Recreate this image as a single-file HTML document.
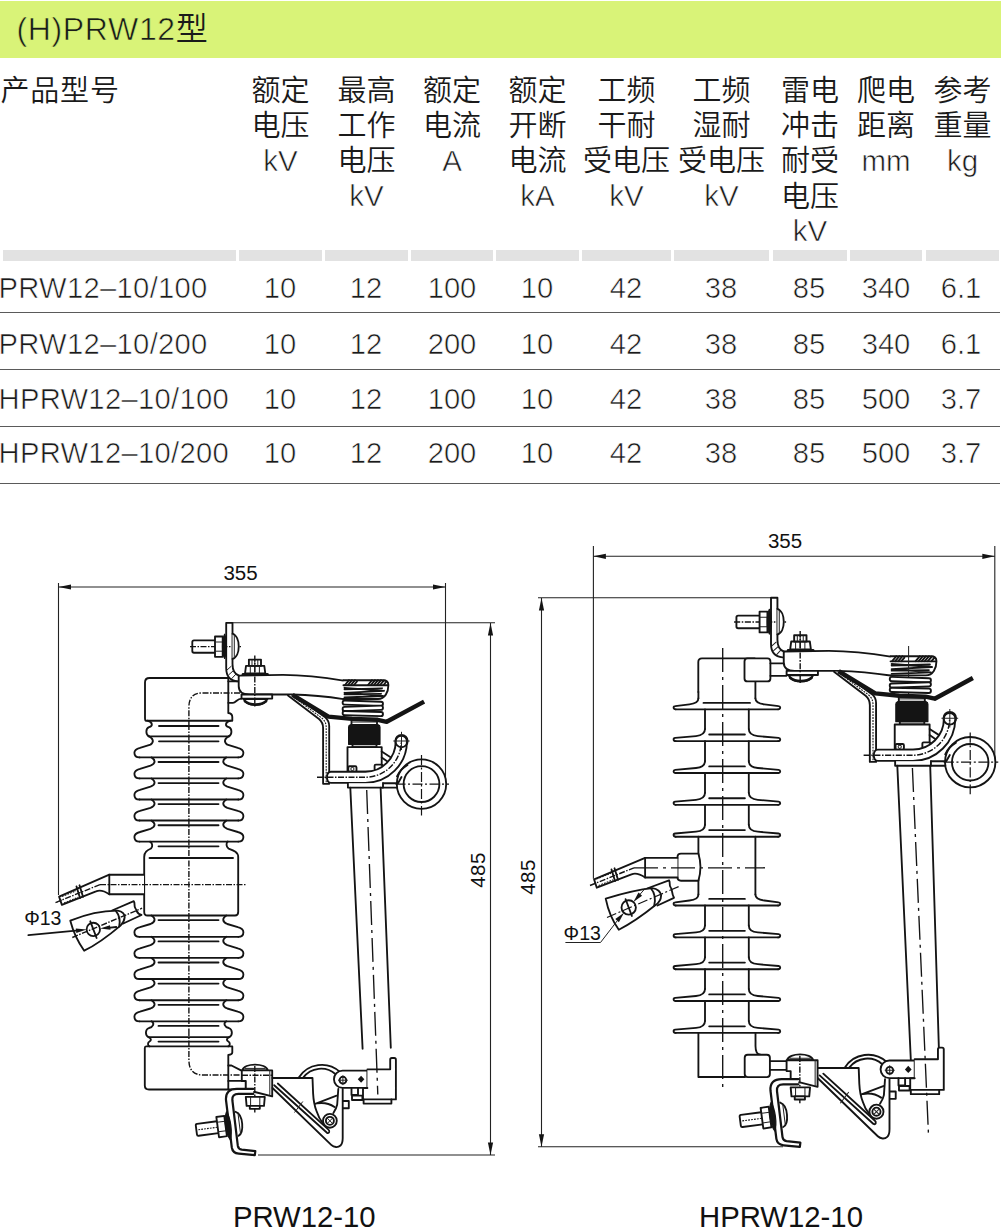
<!DOCTYPE html>
<html lang="zh-CN">
<head>
<meta charset="utf-8">
<title>(H)PRW12型</title>
<style>
html,body{margin:0;padding:0;background:#fff;}
body{width:1003px;height:1227px;position:relative;overflow:hidden;
 font-family:"Liberation Sans","Noto Sans CJK SC",sans-serif;color:#1a1a1a;font-weight:350;}
.bar{position:absolute;left:0;top:1px;width:1001px;height:57px;background:#d9f378;}
.title{position:absolute;left:16.5px;top:9px;font-size:32px;line-height:40px;white-space:nowrap;letter-spacing:0.65px;}
.hd{position:absolute;top:74px;font-size:29px;line-height:35.2px;text-align:center;white-space:nowrap;}
.hd.first{left:0.5px;text-align:left;letter-spacing:0.8px;}
.l{-webkit-text-stroke:0.6px #fff;font-size:29.5px;position:relative;top:-1.5px;}
.lg{-webkit-text-stroke:0.6px #d9f378;}
.row span{-webkit-text-stroke:0.6px #fff;}
.seg{position:absolute;top:250px;height:11px;background:#e2e2e2;}
.row{position:absolute;left:0;width:1000px;height:57px;border-bottom:1.3px solid #5a5a5a;box-sizing:border-box;}
.row span{position:absolute;top:0;font-size:29.2px;line-height:65px;text-align:center;white-space:nowrap;transform:translateX(-50%);}
.r2 span{line-height:62px;}.r3 span{line-height:58px;}.r4 span{line-height:53.4px;}
.row span.m{left:-1.5px;transform:none;text-align:left;letter-spacing:0.3px;}
svg{position:absolute;left:0;top:0;}
svg text{font-family:"Liberation Sans","Noto Sans CJK SC",sans-serif;fill:#111;font-weight:400;}
.o{fill:none;stroke:#141414;stroke-width:1.85;stroke-linecap:round;stroke-linejoin:round;}
.w{fill:#fff;stroke:#141414;stroke-width:1.85;stroke-linecap:round;stroke-linejoin:round;}
.k{fill:none;stroke:#141414;stroke-width:2.6;stroke-linecap:round;stroke-linejoin:round;}
.t{fill:none;stroke:#222;stroke-width:1;}
.d{fill:none;stroke:#222;stroke-width:1.1;}
.c{fill:none;stroke:#141414;stroke-width:1.2;stroke-dasharray:10 2.5 2 2.5;}
.h{fill:none;stroke:#141414;stroke-width:1.4;stroke-dasharray:6 1.5 1.5 1.5;}
.hs{fill:none;stroke:#1a1a1a;stroke-width:1.1;stroke-dasharray:1.8 1.1;}
.f{fill:#141414;stroke:none;}
.fbk{fill:none;stroke:#141414;stroke-width:4.4;stroke-linejoin:round;stroke-linecap:butt;}
.wk{fill:#fff;stroke:#141414;stroke-width:2.2;stroke-linecap:round;stroke-linejoin:round;}
.cl{fill:none;stroke:#141414;stroke-width:1.35;stroke-dasharray:24 5 3 5;}
.fb{fill:#141414;stroke:#141414;stroke-width:1.2;stroke-linejoin:round;}
</style>
</head>
<body>
<div class="bar"></div>
<div class="title"><span class="lg">(H)PRW12</span>型</div>

<div class="hd first">产品型号</div>
<div class="hd" style="left:239px;width:83px">额定<br>电压<br><span class="l">kV</span></div>
<div class="hd" style="left:325px;width:83px">最高<br>工作<br>电压<br><span class="l">kV</span></div>
<div class="hd" style="left:411px;width:82px">额定<br>电流<br><span class="l">A</span></div>
<div class="hd" style="left:496px;width:83px">额定<br>开断<br>电流<br><span class="l">kA</span></div>
<div class="hd" style="left:582px;width:89px">工频<br>干耐<br>受电压<br><span class="l">kV</span></div>
<div class="hd" style="left:674px;width:95px">工频<br>湿耐<br>受电压<br><span class="l">kV</span></div>
<div class="hd" style="left:773px;width:74px">雷电<br>冲击<br>耐受<br>电压<br><span class="l">kV</span></div>
<div class="hd" style="left:850px;width:72px">爬电<br>距离<br><span class="l">mm</span></div>
<div class="hd" style="left:926px;width:73px">参考<br>重量<br><span class="l">kg</span></div>

<div class="seg" style="left:3px;width:233px"></div>
<div class="seg" style="left:239px;width:83px"></div>
<div class="seg" style="left:325px;width:83px"></div>
<div class="seg" style="left:411px;width:82px"></div>
<div class="seg" style="left:496px;width:83px"></div>
<div class="seg" style="left:582px;width:89px"></div>
<div class="seg" style="left:674px;width:95px"></div>
<div class="seg" style="left:773px;width:74px"></div>
<div class="seg" style="left:850px;width:72px"></div>
<div class="seg" style="left:926px;width:73px"></div>

<div class="row" style="top:255.5px"><span class="m">PRW12–10/100</span><span style="left:280px">10</span><span style="left:366px">12</span><span style="left:452px">100</span><span style="left:537px">10</span><span style="left:626px">42</span><span style="left:721px">38</span><span style="left:809px">85</span><span style="left:886px">340</span><span style="left:961px">6.1</span></div>
<div class="row r2" style="top:312.5px"><span class="m">PRW12–10/200</span><span style="left:280px">10</span><span style="left:366px">12</span><span style="left:452px">200</span><span style="left:537px">10</span><span style="left:626px">42</span><span style="left:721px">38</span><span style="left:809px">85</span><span style="left:886px">340</span><span style="left:961px">6.1</span></div>
<div class="row r3" style="top:369.5px"><span class="m">HPRW12–10/100</span><span style="left:280px">10</span><span style="left:366px">12</span><span style="left:452px">100</span><span style="left:537px">10</span><span style="left:626px">42</span><span style="left:721px">38</span><span style="left:809px">85</span><span style="left:886px">500</span><span style="left:961px">3.7</span></div>
<div class="row r4" style="top:426.5px"><span class="m">HPRW12–10/200</span><span style="left:280px">10</span><span style="left:366px">12</span><span style="left:452px">200</span><span style="left:537px">10</span><span style="left:626px">42</span><span style="left:721px">38</span><span style="left:809px">85</span><span style="left:886px">500</span><span style="left:961px">3.7</span></div>

<svg width="1003" height="1227" viewBox="0 0 1003 1227">
<path class="d" d="M58.5,583 L58.5,895"/>
<path class="d" d="M445.5,583 L445.5,785"/>
<path class="d" d="M58.5,587 L445.5,587"/>
<path class="f" d="M58.5,587 L71,584.4 L71,589.6 Z"/>
<path class="f" d="M445.5,587 L433,589.6 L433,584.4 Z"/>
<text x="240.5" y="579.5" font-size="20.5" text-anchor="middle">355</text>
<path class="d" d="M232.5,622.8 L495,622.8"/>
<path class="d" d="M258,1155 L495,1155"/>
<path class="d" d="M490.5,623 L490.5,1155"/>
<path class="f" d="M490.5,623 L493.1,635.5 L487.9,635.5 Z"/>
<path class="f" d="M490.5,1155 L487.9,1142.5 L493.1,1142.5 Z"/>
<text transform="translate(484.5,870) rotate(-90)" font-size="20.5" letter-spacing="0.4" text-anchor="middle">485</text>
<text x="304.3" y="1227" font-size="29.3" text-anchor="middle">PRW12-10</text>
<path class="o" d="M149.5,678 H228.3 V713 Q232.3,713.5 232.3,717 V720.7 H146 Q145,720.7 145,718 V682.5 Q145,678 149.5,678 Z"/>
<path class="o" d="M147.5,720.7 C153,722.2 153,726.2 149,727.2 C145.5,728.7 145.5,734.8 149,736.3"/>
<path class="o" d="M230.3,720.7 C224.8,722.2 224.8,726.2 228.8,727.2 C232.3,728.7 232.3,734.8 228.8,736.3"/>
<path class="o" d="M148.5,736.3 L229.3,736.3"/>
<path class="o" d="M159,726 L218.5,726"/>
<path class="o" d="M159,741.3 L218.5,741.3"/>
<path class="o" d="M149,736.3 C153,738.5 154.5,742 150.5,744.6 L140,747.8 C136,748.8 134.4,750.4 134.4,752.8 C134.4,755.9 136.5,757.4 139.5,757.4"/>
<path class="o" d="M228.8,736.3 C224.8,738.5 223.3,742 227.3,744.6 L237.8,747.8 C241.8,748.8 243.4,750.4 243.4,752.8 C243.4,755.9 241.3,757.4 238.3,757.4"/>
<path class="o" d="M139.5,757.4 L238.3,757.4"/>
<path class="o" d="M151.5,757.4 C155.5,759.9 156,763.4 150.5,765.6 L140,768.8 C136,769.8 134.4,771.4 134.4,773.8 C134.4,776.9 136.5,778.4 139.5,778.4"/>
<path class="o" d="M226.3,757.4 C222.3,759.9 221.8,763.4 227.3,765.6 L237.8,768.8 C241.8,769.8 243.4,771.4 243.4,773.8 C243.4,776.9 241.3,778.4 238.3,778.4"/>
<path class="o" d="M139.5,778.4 L238.3,778.4"/>
<path class="o" d="M158.5,762 L218.5,762"/>
<path class="o" d="M151.5,778.5 C155.5,781 156,784.5 150.5,786.7 L140,789.9 C136,790.9 134.4,792.5 134.4,794.9 C134.4,798 136.5,799.5 139.5,799.5"/>
<path class="o" d="M226.3,778.5 C222.3,781 221.8,784.5 227.3,786.7 L237.8,789.9 C241.8,790.9 243.4,792.5 243.4,794.9 C243.4,798 241.3,799.5 238.3,799.5"/>
<path class="o" d="M139.5,799.5 L238.3,799.5"/>
<path class="o" d="M158.5,783.1 L218.5,783.1"/>
<path class="o" d="M151.5,799.5 C155.5,802 156,805.5 150.5,807.8 L140,810.9 C136,811.9 134.4,813.5 134.4,815.9 C134.4,819 136.5,820.5 139.5,820.5"/>
<path class="o" d="M226.3,799.5 C222.3,802 221.8,805.5 227.3,807.8 L237.8,810.9 C241.8,811.9 243.4,813.5 243.4,815.9 C243.4,819 241.3,820.5 238.3,820.5"/>
<path class="o" d="M139.5,820.5 L238.3,820.5"/>
<path class="o" d="M158.5,804.1 L218.5,804.1"/>
<path class="o" d="M151.5,820.6 C155.5,823.1 156,826.6 150.5,828.8 L140,832 C136,833 134.4,834.6 134.4,837 C134.4,840.1 136.5,841.6 139.5,841.6"/>
<path class="o" d="M226.3,820.6 C222.3,823.1 221.8,826.6 227.3,828.8 L237.8,832 C241.8,833 243.4,834.6 243.4,837 C243.4,840.1 241.3,841.6 238.3,841.6"/>
<path class="o" d="M139.5,841.6 L238.3,841.6"/>
<path class="o" d="M158.5,825.2 L218.5,825.2"/>
<path class="o" d="M158.5,846.3 L218.5,846.3"/>
<path class="o" d="M150,841.6 C152.5,843 153,846.5 151,848.5 C147,850.5 144.2,852 144.2,857 V912 Q144.2,915.5 147.5,915.5 H235 Q238.2,915.5 238.2,912 V857 C238.2,852 234,850.5 228.5,848.5 C226,846.5 226,843 227.8,841.6"/>
<path class="o" d="M149.5,858 L233,858"/>
<path class="o" d="M151.5,915.5 C155.5,918 156,921.8 150.5,924 L140,927.2 C136,928.2 134.4,929.8 134.4,932.2 C134.4,935.3 136.5,936.8 139.5,936.8"/>
<path class="o" d="M226.3,915.5 C222.3,918 221.8,921.8 227.3,924 L237.8,927.2 C241.8,928.2 243.4,929.8 243.4,932.2 C243.4,935.3 241.3,936.8 238.3,936.8"/>
<path class="o" d="M139.5,936.8 L238.3,936.8"/>
<path class="o" d="M158.5,920.1 L218.5,920.1"/>
<path class="o" d="M151.5,936.8 C155.5,939.3 156,942.9 150.5,945.1 L140,948.3 C136,949.3 134.4,950.9 134.4,953.3 C134.4,956.4 136.5,957.9 139.5,957.9"/>
<path class="o" d="M226.3,936.8 C222.3,939.3 221.8,942.9 227.3,945.1 L237.8,948.3 C241.8,949.3 243.4,950.9 243.4,953.3 C243.4,956.4 241.3,957.9 238.3,957.9"/>
<path class="o" d="M139.5,957.9 L238.3,957.9"/>
<path class="o" d="M158.5,941.4 L218.5,941.4"/>
<path class="o" d="M151.5,957.9 C155.5,960.4 156,964 150.5,966.2 L140,969.4 C136,970.4 134.4,972 134.4,974.4 C134.4,977.5 136.5,979 139.5,979"/>
<path class="o" d="M226.3,957.9 C222.3,960.4 221.8,964 227.3,966.2 L237.8,969.4 C241.8,970.4 243.4,972 243.4,974.4 C243.4,977.5 241.3,979 238.3,979"/>
<path class="o" d="M139.5,979 L238.3,979"/>
<path class="o" d="M158.5,962.5 L218.5,962.5"/>
<path class="o" d="M151.5,979 C155.5,981.5 156,985.2 150.5,987.4 L140,990.6 C136,991.6 134.4,993.2 134.4,995.6 C134.4,998.7 136.5,1000.2 139.5,1000.2"/>
<path class="o" d="M226.3,979 C222.3,981.5 221.8,985.2 227.3,987.4 L237.8,990.6 C241.8,991.6 243.4,993.2 243.4,995.6 C243.4,998.7 241.3,1000.2 238.3,1000.2"/>
<path class="o" d="M139.5,1000.2 L238.3,1000.2"/>
<path class="o" d="M158.5,983.6 L218.5,983.6"/>
<path class="o" d="M151.5,1000.2 C155.5,1002.7 156,1006.3 150.5,1008.5 L140,1011.7 C136,1012.7 134.4,1014.3 134.4,1016.7 C134.4,1019.8 136.5,1021.3 139.5,1021.3"/>
<path class="o" d="M226.3,1000.2 C222.3,1002.7 221.8,1006.3 227.3,1008.5 L237.8,1011.7 C241.8,1012.7 243.4,1014.3 243.4,1016.7 C243.4,1019.8 241.3,1021.3 238.3,1021.3"/>
<path class="o" d="M139.5,1021.3 L238.3,1021.3"/>
<path class="o" d="M158.5,1004.8 L218.5,1004.8"/>
<path class="o" d="M158.5,1025.9 L218.5,1025.9"/>
<path class="o" d="M151.5,1021.3 C155,1023.5 153,1027 149,1028 C145,1029.5 145,1035.5 148.5,1037.1 C151.5,1038.5 151.5,1040.5 149.5,1041.5 C147.5,1042.5 147.5,1045.5 149.5,1046.4"/>
<path class="o" d="M226.3,1021.3 C222.8,1023.5 224.8,1027 228.8,1028 C232.8,1029.5 232.8,1035.5 229.3,1037.1 C226.3,1038.5 226.3,1040.5 228.3,1041.5 C230.3,1042.5 230.3,1045.5 228.3,1046.4"/>
<path class="o" d="M148.5,1037.1 L229.3,1037.1"/>
<path class="o" d="M158.5,1041.6 L218.5,1041.6"/>
<path class="o" d="M146,1046.4 H232.3 V1052.5 Q232.3,1054.5 228.3,1055 V1089.5 H149 Q144.8,1089.5 144.8,1085.5 V1048 Q144.8,1046.4 146,1046.4 Z"/>
<path class="h" d="M188.9,724 V1030"/>
<path class="h" d="M240,693 H202 Q188.9,693 188.9,707 V724"/>
<path class="h" d="M188.9,1030 V1060 Q188.9,1075 203,1075 H272"/>
<path class="o" d="M228.3,681.3 H237.5 M228.3,702.8 H233 C236,702.8 237,698.6 241.5,698.6"/>
<path class="o" d="M226.2,622.8 H232.5 V664 Q232.5,673.5 239,675.6 M226.2,622.8 V668 Q226.2,680.5 237.5,681.3"/>
<path class="t" d="M227,670 L231.5,666 M228.5,675 L233.5,670.5 M231.5,678.8 L236,674"/>
<path class="w" d="M215,640.4 H194 Q192.3,640.4 192.3,642 V651 Q192.3,652.7 194,652.7 H215"/>
<path class="h" d="M190,646.6 L241,646.6"/>
<rect class="w" x="215" y="636.5" width="7.7" height="20.3"/>
<path class="t" d="M215,642 H222.7 M215,651.2 H222.7"/>
<path class="fb" d="M224.6,634.2 C221.8,640 221.8,653 224.6,658.4 C227,653 227,640 224.6,634.2 Z"/>
<path class="w" d="M232.5,633.7 C240.8,636.5 240.8,656.5 232.5,658.9"/>
<path class="t" d="M234.3,635 L234.3,657.8"/>
<path class="w" d="M245,673.5 L246,665.8 H264.3 L265.3,673.5 Z"/>
<rect class="w" x="248.9" y="659.6" width="12.1" height="6.2"/>
<path class="t" d="M250.3,665.8 V673.5 M254.8,659.6 V673.5 M259.4,665.8 V673.5 M252,659.6 V665.8 M257.8,659.6 V665.8"/>
<path class="k" d="M243,674.3 L267.5,674.3"/>
<path class="o" d="M238.7,675.6 L283,674.9 C305,675 325,677.5 343.4,680.6 M238.7,675.6 V686 Q238.7,694.5 249.2,694.5 H292 C312,695 330,697 343.4,699.1"/>
<rect class="w" x="241.5" y="694.5" width="30.7" height="4.1"/>
<path class="w" d="M243.5,699 C247,707 264,707 267.5,699 Z"/>
<path class="k" d="M245,701.2 C250,705.5 261,705.5 266,701.2"/>
<path class="h" d="M254.8,655.5 L254.8,708"/>
<path class="w" d="M343.4,680.2 H383 Q388.4,680.2 388.4,685 C388.4,692 385,699 378,699 H343.4"/>
<path class="o" d="M343.4,685.2 H388"/>
<path class="o" d="M345,685 L349,680.2 M348,685 L352,680.2 M351,685 L355,680.2 M354,685 L357,681.5 M368,685 L372,680.2 M371,685 L375,680.2 M374,685 L378,680.2 M377,685 L381,680.2 M380,685 L384,680.4 M383.5,685 L386.5,681.5"/>
<path class="o" d="M344.5,687.8 L384,690.8 M344.5,692.8 L384,690.8 M344.5,692.8 L383,696 M344.5,697.5 L383,696 M344.5,689.3 L382,688.3 M344.5,694.3 L381,693.8"/>
<rect class="w" x="342.6" y="701.1" width="40.4" height="4.2" rx="2.1" transform="rotate(2 362.8 703.2)"/>
<rect class="w" x="342.6" y="706.3" width="40.4" height="4.2" rx="2.1" transform="rotate(-2 362.8 708.4)"/>
<rect class="w" x="342.6" y="711.5" width="40.4" height="4.2" rx="2.1" transform="rotate(1.5 362.8 713.6)"/>
<rect class="w" x="351.5" y="719.4" width="25.5" height="5.4"/>
<path class="t" d="M351.5,722 L377,722"/>
<path class="w" d="M288,695.4 L319,719 Q323.1,722.5 323.1,728 V783.8 H329.2 V726 Q329.2,721 325.5,717.6 L295,695.7"/>
<path class="hs" d="M291.5,695.4 L322.2,718.4 Q326.2,722 326.2,727.5 V783"/>
<path class="fbk" d="M292.5,694.9 L328.4,716.6 L352,718.9 L377.7,719.8 L386.7,721.8 L424.1,701.6"/>
<path class="fb" d="M350.2,724.8 H378.4 Q380,725 380,727.3 V744.3 H348.6 V727.3 Q348.6,725 350.2,724.8 Z"/>
<rect class="w" x="352.5" y="744.3" width="24" height="2.8"/>
<circle class="w" cx="421.5" cy="784.1" r="24.7"/>
<circle class="w" cx="421.5" cy="784.1" r="17.9"/>
<path class="o" d="M382.2,787.6 H397"/>
<rect class="w" x="347.5" y="747.1" width="34.2" height="24.6"/>
<rect class="w" x="348.3" y="766.2" width="8.2" height="5.5" rx="1.2"/>
<circle class="t" cx="352.4" cy="769" r="1.6"/>
<rect class="w" x="374.6" y="764.6" width="8" height="5.6" rx="1.2"/>
<path class="o" d="M381.7,751.5 L394,759.5 M381.7,757.5 L391,764 M381.7,765 L388,768.5"/>
<path class="w" d="M365.4,771.7 H331 Q327,771.7 327,777.2 Q327,782.8 331,782.8 H365.4 A41.5,41.5 0 0 0 406.9,741.4 A5.6,5.6 0 0 0 395.7,741.4 A30.3,30.3 0 0 1 365.4,771.7 Z"/>
<circle class="o" cx="401.5" cy="741" r="6.2"/>
<path class="h" d="M317,777.2 H365.4 A35.9,35.9 0 0 0 401.3,741.4"/>
<path class="t" d="M393.3,741 H409.7 M401.5,731.8 V750"/>
<path class="o" d="M397,776.5 C400,770 403,768 407.5,765 M383,783.2 L398,783.2 L401.5,777"/>
<path class="w" d="M347.9,783.2 V787.6 H383 V783.2"/>
<path class="c" d="M395.5,784.1 H449 M421.5,755 V815.5"/>
<path class="o" d="M350.3,787.6 L362.6,1048.7 M380.6,787.6 L390.8,1047.7"/>
<path class="o" d="M228.3,1065.5 H231.5 L241,1070.4 M228.3,1080.9 H241.8 M228.3,1089.4 H245.8 M245.8,1081 V1089.4"/>
<path class="w" d="M242.3,1070.4 C243.5,1062.6 266.6,1062.6 267.8,1070.4 Z"/>
<path class="t" d="M244.5,1068.4 H265.6"/>
<path class="w" d="M241.8,1070.4 H272.2 V1096.4 L254.8,1092 H245.8 V1081 H241.8 Z"/>
<path class="t" d="M269.8,1070.4 L269.8,1095.8"/>
<path class="h" d="M254.8,1066 L254.8,1112.5"/>
<path class="h" d="M242,1075.3 L272,1075.3"/>
<path class="wk" d="M253.3,1088.9 H237 Q225.2,1088.9 226,1100 L231.8,1147.5 Q232.6,1153 238.8,1153.7 L254.8,1155.2 L255.3,1151.2 L241.8,1149.7 Q238.4,1149.2 237.8,1145.7 L232.4,1100.5 Q231.8,1093.9 238.5,1093.9 H253.3"/>
<path class="w" d="M245.8,1096.9 H264.8 L264,1105.8 H246.6 Z"/>
<path class="t" d="M250.6,1096.9 V1105.8 M259.8,1096.9 V1105.8"/>
<rect class="w" x="249.8" y="1105.8" width="10" height="3"/>
<g transform="rotate(-7.5 230 1125)">
<path class="w" d="M217.5,1119.6 H197.5 Q196,1119.6 196,1121.2 V1130 Q196,1131.6 197.5,1131.6 H217.5"/>
<path class="hs" d="M198,1125.6 H217.5"/>
<rect class="w" x="217.5" y="1115.3" width="8" height="20.4"/>
<path class="t" d="M217.5,1120.7 H225.5 M217.5,1130.2 H225.5"/>
<path class="fb" d="M228.3,1111.5 C224.6,1118 224.6,1133 228.3,1139.5 C231.6,1133 231.6,1118 228.3,1111.5 Z"/>
</g>
<path class="w" d="M235.6,1111.8 C243.6,1114.5 244.2,1133 238.5,1135.8"/>
<path class="t" d="M238,1113.4 L240.6,1134.2"/>
<path class="o" d="M298.8,1077.6 A27.1,27.1 0 0 1 340,1072"/>
<path class="o" d="M303.2,1077.6 A22.2,22.2 0 0 1 335.6,1074.2"/>
<path class="o" d="M272.5,1078 H312.5 L313.1,1093.4 C313.5,1101 314.5,1106 316.5,1111 C318,1116 320.5,1120.5 323.5,1124 M272.5,1088 L331.2,1144.9 C334,1147.5 338,1147.8 340.5,1145.5 C342.6,1143.5 342.7,1141 342.7,1138 V1089 M338.3,1089 L337.2,1104.5 C336.5,1108 335,1110.5 333.4,1113"/>
<path class="o" d="M274.2,1085.2 L327,1132.8 Q328.6,1133.6 329.2,1132 Q329.6,1130.6 328.2,1129.4 L277.8,1083.5"/>
<path class="t" d="M294.5,1112.5 L302.8,1101.5"/>
<path class="o" d="M315.2,1103.8 L336.6,1095.6 M316.8,1103.4 C322,1102.5 329,1103.2 334.5,1107"/>
<circle class="w" cx="329.9" cy="1120.8" r="6.9"/>
<circle class="o" cx="329.9" cy="1120.8" r="4"/>
<path class="t" d="M327.1,1118 L332.7,1123.6 M332.7,1118 L327.1,1123.6"/>
<path class="w" d="M342.6,1070.6 H367.4 V1087.9 H342.6 A8.65,8.65 0 0 1 342.6,1070.6 Z"/>
<circle class="o" cx="342.9" cy="1080.2" r="3.4"/>
<path class="t" d="M338,1080.2 H347.8 M342.9,1075.3 V1085.1"/>
<path class="f" d="M361.1,1075.8 L364.4,1079.3 L361.1,1082.8 L357.8,1079.3 Z"/>
<path class="o" d="M351.5,1088 V1095 H358 V1088 M352,1095.6 H362.4 V1100 H352 Z M343.3,1101 H348.8 V1108.2 H343.3"/>
<path class="w" d="M367.4,1069.3 H390.2 V1059.8 Q390.2,1058 391.8,1058 H394.3 Q395.9,1058 395.9,1059.8 V1099.4 H363 V1088 H367.4"/>
<path class="o" d="M363.6,1099.4 V1103.6 H391.4 V1099.4"/>
<path class="cl" d="M366.7,790 L377.8,1094.5"/>
<path class="w" d="M144,874.7 H109.3 L59.1,896.6 L61.9,904.9 L96,891.3 C100,889.6 104,890.6 109.3,894.2 H144"/>
<path class="o" d="M109.3,874.7 L109.3,894.2"/>
<path class="h" d="M55.5,902.6 L100,884.6"/>
<path class="hs" d="M62,896.5 L76,890.8 M64,903 L78,897.3"/>
<path class="o" d="M76.5,886.5 L80,898 M79.5,885.3 L83,896.8"/>
<path class="t" d="M57,902 L62,900"/>
<path class="w" d="M112,910.5 L133.8,901.2 C135.5,904 133.5,906 135.5,908.5 C137.5,911 136,913.5 141.5,915 L123.3,923.5"/>
<path class="w" d="M70.3,920.7 C84,915 103,910.5 117.7,910.6 C122.5,911.2 125,914.5 124.7,917.2 C124.3,921 122.5,923.8 120.5,925.6 C110,934.5 97,944.5 84.2,950.7 C78,942 73,931 70.3,920.7 Z"/>
<path class="o" d="M116,911.2 C119.5,915.5 120.5,920.5 119.2,926.6"/>
<circle class="w" cx="93.3" cy="929.4" r="6.7"/>
<path class="h" d="M72.3,937.5 L142.1,908.2"/>
<path class="o" d="M90.3,921.3 L96.6,938"/>
<path class="o" d="M28.4,935.1 L76,930.7"/>
<path class="f" d="M86.6,929.6 L76.3,933 L75.8,928.4 Z"/>
<path class="o" d="M116.3,927 L108,927.8"/>
<path class="f" d="M100,928.5 L110,925.2 L110.5,929.8 Z"/>
<text x="24.2" y="925.2" font-size="19.5" text-anchor="start">Φ13</text>
<path class="h" d="M100,884.6 L246,884.6"/>
<path class="d" d="M593.4,546 L593.4,878.7"/>
<path class="d" d="M994.8,546 L994.8,764"/>
<path class="d" d="M593.4,556.3 L994.8,556.3"/>
<path class="f" d="M593.4,556.3 L605.9,553.7 L605.9,558.9 Z"/>
<path class="f" d="M994.8,556.3 L982.3,558.9 L982.3,553.7 Z"/>
<text x="785" y="547.8" font-size="20.5" text-anchor="middle">355</text>
<path class="d" d="M538,597.8 L771,597.8"/>
<path class="d" d="M538,1146.8 L783,1146.8"/>
<path class="d" d="M541.5,598 L541.5,1146.8"/>
<path class="f" d="M541.5,598 L544.1,610.5 L538.9,610.5 Z"/>
<path class="f" d="M541.5,1146.8 L538.9,1134.3 L544.1,1134.3 Z"/>
<text transform="translate(534.5,877) rotate(-90)" font-size="20.5" letter-spacing="0.4" text-anchor="middle">485</text>
<text x="781" y="1227" font-size="29.3" text-anchor="middle">HPRW12-10</text>
<path class="o" d="M698.3,692 V662 Q698.3,658.4 702,658.4 H754.8"/>
<path class="o" d="M698.4,692 V698.3"/>
<path class="o" d="M698.4,698.3 C698.4,701.3 695.4,703.7 689.4,704.3 L675.2,706.1 C673,706.3 673,709.3 675.7,709.3"/>
<path class="o" d="M705,709.3 V729.1"/>
<path class="o" d="M705,729.1 C705,733.1 702,735.5 696,736.1 L675.2,737.9 C673,738.1 673,741.1 675.7,741.1"/>
<path class="o" d="M705,741.1 V761"/>
<path class="o" d="M705,761 C705,765 702,767.4 696,768 L675.2,769.8 C673,770 673,773 675.7,773"/>
<path class="o" d="M705,773 V792.8"/>
<path class="o" d="M705,792.8 C705,796.8 702,799.2 696,799.8 L675.2,801.6 C673,801.8 673,804.8 675.7,804.8"/>
<path class="o" d="M705,804.8 V824.7"/>
<path class="o" d="M705,824.7 C705,828.7 702,831.1 696,831.7 L675.2,833.5 C673,833.7 673,836.7 675.7,836.7"/>
<path class="o" d="M698.4,836.7 V894.5"/>
<path class="o" d="M698.4,894.5 C698.4,897.5 695.4,899.9 689.4,900.5 L675.2,902.3 C673,902.5 673,905.5 675.7,905.5"/>
<path class="o" d="M705,905.5 V925.4"/>
<path class="o" d="M705,925.4 C705,929.4 702,931.8 696,932.4 L675.2,934.1 C673,934.4 673,937.4 675.7,937.4"/>
<path class="o" d="M705,937.4 V957.2"/>
<path class="o" d="M705,957.2 C705,961.2 702,963.6 696,964.2 L675.2,966 C673,966.2 673,969.2 675.7,969.2"/>
<path class="o" d="M705,969.2 V989"/>
<path class="o" d="M705,989 C705,993 702,995.4 696,996 L675.2,997.8 C673,998 673,1001 675.7,1001"/>
<path class="o" d="M705,1001.1 V1020.9"/>
<path class="o" d="M705,1020.9 C705,1024.9 702,1027.3 696,1027.9 L675.2,1029.7 C673,1029.9 673,1032.9 675.7,1032.9"/>
<path class="o" d="M755.4,681.4 V698.3"/>
<path class="o" d="M755.4,698.3 C755.4,701.3 758.4,703.7 764.4,704.3 L778.6,706.1 C780.8,706.3 780.8,709.3 778.1,709.3"/>
<path class="o" d="M748.8,709.3 V729.1"/>
<path class="o" d="M748.8,729.1 C748.8,733.1 751.8,735.5 757.8,736.1 L778.6,737.9 C780.8,738.1 780.8,741.1 778.1,741.1"/>
<path class="o" d="M748.8,741.1 V761"/>
<path class="o" d="M748.8,761 C748.8,765 751.8,767.4 757.8,768 L778.6,769.8 C780.8,770 780.8,773 778.1,773"/>
<path class="o" d="M748.8,773 V792.8"/>
<path class="o" d="M748.8,792.8 C748.8,796.8 751.8,799.2 757.8,799.8 L778.6,801.6 C780.8,801.8 780.8,804.8 778.1,804.8"/>
<path class="o" d="M748.8,804.8 V824.7"/>
<path class="o" d="M748.8,824.7 C748.8,828.7 751.8,831.1 757.8,831.7 L778.6,833.5 C780.8,833.7 780.8,836.7 778.1,836.7"/>
<path class="o" d="M755.4,836.7 V894.5"/>
<path class="o" d="M755.4,894.5 C755.4,897.5 758.4,899.9 764.4,900.5 L778.6,902.3 C780.8,902.5 780.8,905.5 778.1,905.5"/>
<path class="o" d="M748.8,905.5 V925.4"/>
<path class="o" d="M748.8,925.4 C748.8,929.4 751.8,931.8 757.8,932.4 L778.6,934.1 C780.8,934.4 780.8,937.4 778.1,937.4"/>
<path class="o" d="M748.8,937.4 V957.2"/>
<path class="o" d="M748.8,957.2 C748.8,961.2 751.8,963.6 757.8,964.2 L778.6,966 C780.8,966.2 780.8,969.2 778.1,969.2"/>
<path class="o" d="M748.8,969.2 V989"/>
<path class="o" d="M748.8,989 C748.8,993 751.8,995.4 757.8,996 L778.6,997.8 C780.8,998 780.8,1001 778.1,1001"/>
<path class="o" d="M748.8,1001.1 V1020.9"/>
<path class="o" d="M748.8,1020.9 C748.8,1024.9 751.8,1027.3 757.8,1027.9 L778.6,1029.7 C780.8,1029.9 780.8,1032.9 778.1,1032.9"/>
<path class="o" d="M675.7,709.3 L778.1,709.3"/>
<path class="o" d="M703.5,702.9 L750,702.9"/>
<path class="o" d="M675.7,741.1 L778.1,741.1"/>
<path class="o" d="M709.2,734.5 L744.9,734.5"/>
<path class="o" d="M675.7,773 L778.1,773"/>
<path class="o" d="M709.2,766.4 L744.9,766.4"/>
<path class="o" d="M675.7,804.8 L778.1,804.8"/>
<path class="o" d="M709.2,798.2 L744.9,798.2"/>
<path class="o" d="M675.7,836.7 L778.1,836.7"/>
<path class="o" d="M709.2,830.1 L744.9,830.1"/>
<path class="o" d="M675.7,905.5 L778.1,905.5"/>
<path class="o" d="M709.2,898.9 L744.9,898.9"/>
<path class="o" d="M675.7,937.4 L778.1,937.4"/>
<path class="o" d="M709.2,930.8 L744.9,930.8"/>
<path class="o" d="M675.7,969.2 L778.1,969.2"/>
<path class="o" d="M709.2,962.6 L744.9,962.6"/>
<path class="o" d="M675.7,1001 L778.1,1001"/>
<path class="o" d="M709.2,994.4 L744.9,994.4"/>
<path class="o" d="M675.7,1032.9 L778.1,1032.9"/>
<path class="o" d="M709.2,1026.3 L744.9,1026.3"/>
<path class="o" d="M698.4,1032.9 V1077 H745"/>
<path class="o" d="M755.5,1032.9 V1046 Q755.5,1054.7 760.5,1054.7"/>
<path class="cl" d="M722.7,648 V1088"/>
<rect class="w" x="744.5" y="658.4" width="25.9" height="23" rx="3"/>
<path class="o" d="M770.4,663.3 H783 M770.4,675.8 H786.5"/>
<rect class="w" x="744.7" y="1054.7" width="25.2" height="22.4" rx="3"/>
<path class="o" d="M769.9,1061.1 H791.4 M769.9,1069.9 H791.4"/>
<g transform="translate(540.28,-37.56) scale(1.02)">
<path class="o" d="M226.2,622.8 H232.5 V664 Q232.5,673.5 239,675.6 M226.2,622.8 V668 Q226.2,680.5 237.5,681.3"/>
<path class="t" d="M227,670 L231.5,666 M228.5,675 L233.5,670.5 M231.5,678.8 L236,674"/>
<path class="w" d="M215,640.4 H194 Q192.3,640.4 192.3,642 V651 Q192.3,652.7 194,652.7 H215"/>
<path class="h" d="M190,646.6 L241,646.6"/>
<rect class="w" x="215" y="636.5" width="7.7" height="20.3"/>
<path class="t" d="M215,642 H222.7 M215,651.2 H222.7"/>
<path class="fb" d="M224.6,634.2 C221.8,640 221.8,653 224.6,658.4 C227,653 227,640 224.6,634.2 Z"/>
<path class="w" d="M232.5,633.7 C240.8,636.5 240.8,656.5 232.5,658.9"/>
<path class="t" d="M234.3,635 L234.3,657.8"/>
<path class="w" d="M245,673.5 L246,665.8 H264.3 L265.3,673.5 Z"/>
<rect class="w" x="248.9" y="659.6" width="12.1" height="6.2"/>
<path class="t" d="M250.3,665.8 V673.5 M254.8,659.6 V673.5 M259.4,665.8 V673.5 M252,659.6 V665.8 M257.8,659.6 V665.8"/>
<path class="k" d="M243,674.3 L267.5,674.3"/>
<path class="o" d="M238.7,675.6 L283,674.9 C305,675 325,677.5 343.4,680.6 M238.7,675.6 V686 Q238.7,694.5 249.2,694.5 H292 C312,695 330,697 343.4,699.1"/>
<rect class="w" x="241.5" y="694.5" width="30.7" height="4.1"/>
<path class="w" d="M243.5,699 C247,707 264,707 267.5,699 Z"/>
<path class="k" d="M245,701.2 C250,705.5 261,705.5 266,701.2"/>
<path class="h" d="M254.8,655.5 L254.8,708"/>
<path class="w" d="M343.4,680.2 H383 Q388.4,680.2 388.4,685 C388.4,692 385,699 378,699 H343.4"/>
<path class="o" d="M343.4,685.2 H388"/>
<path class="o" d="M345,685 L349,680.2 M348,685 L352,680.2 M351,685 L355,680.2 M354,685 L357,681.5 M368,685 L372,680.2 M371,685 L375,680.2 M374,685 L378,680.2 M377,685 L381,680.2 M380,685 L384,680.4 M383.5,685 L386.5,681.5"/>
<path class="o" d="M344.5,687.8 L384,690.8 M344.5,692.8 L384,690.8 M344.5,692.8 L383,696 M344.5,697.5 L383,696 M344.5,689.3 L382,688.3 M344.5,694.3 L381,693.8"/>
<path class="t" d="M361.1,670.2 L361.1,723"/>
<rect class="w" x="342.6" y="701.1" width="40.4" height="4.2" rx="2.1" transform="rotate(2 362.8 703.2)"/>
<rect class="w" x="342.6" y="706.3" width="40.4" height="4.2" rx="2.1" transform="rotate(-2 362.8 708.4)"/>
<rect class="w" x="342.6" y="711.5" width="40.4" height="4.2" rx="2.1" transform="rotate(1.5 362.8 713.6)"/>
<rect class="w" x="351.5" y="719.4" width="25.5" height="5.4"/>
<path class="t" d="M351.5,722 L377,722"/>
<path class="w" d="M288,695.4 L319,719 Q323.1,722.5 323.1,728 V783.8 H329.2 V726 Q329.2,721 325.5,717.6 L295,695.7"/>
<path class="hs" d="M291.5,695.4 L322.2,718.4 Q326.2,722 326.2,727.5 V783"/>
<path class="fbk" d="M292.5,694.9 L328.4,716.6 L352,718.9 L377.7,719.8 L386.7,721.8 L424.1,701.6"/>
<path class="fb" d="M350.2,724.8 H378.4 Q380,725 380,727.3 V744.3 H348.6 V727.3 Q348.6,725 350.2,724.8 Z"/>
<rect class="w" x="352.5" y="744.3" width="24" height="2.8"/>
<circle class="w" cx="421.5" cy="784.1" r="24.7"/>
<circle class="w" cx="421.5" cy="784.1" r="17.9"/>
<path class="o" d="M382.2,787.6 H397"/>
<rect class="w" x="347.5" y="747.1" width="34.2" height="24.6"/>
<rect class="w" x="348.3" y="766.2" width="8.2" height="5.5" rx="1.2"/>
<circle class="t" cx="352.4" cy="769" r="1.6"/>
<rect class="w" x="374.6" y="764.6" width="8" height="5.6" rx="1.2"/>
<path class="o" d="M381.7,751.5 L394,759.5 M381.7,757.5 L391,764 M381.7,765 L388,768.5"/>
<path class="w" d="M365.4,771.7 H331 Q327,771.7 327,777.2 Q327,782.8 331,782.8 H365.4 A41.5,41.5 0 0 0 406.9,741.4 A5.6,5.6 0 0 0 395.7,741.4 A30.3,30.3 0 0 1 365.4,771.7 Z"/>
<circle class="o" cx="401.5" cy="741" r="6.2"/>
<path class="h" d="M317,777.2 H365.4 A35.9,35.9 0 0 0 401.3,741.4"/>
<path class="t" d="M393.3,741 H409.7 M401.5,731.8 V750"/>
<path class="o" d="M397,776.5 C400,770 403,768 407.5,765 M383,783.2 L398,783.2 L401.5,777"/>
<path class="w" d="M347.9,783.2 V787.6 H383 V783.2"/>
<path class="c" d="M395.5,784.1 H449 M421.5,755 V815.5"/>
</g>
<path class="o" d="M897.3,765.6 L910.8,1059.6 M930.2,765.6 L939.2,1058.9"/>
<g transform="translate(539.95,-31.5) scale(1.02)">
<path class="w" d="M242.3,1070.4 C243.5,1062.6 266.6,1062.6 267.8,1070.4 Z"/>
<path class="t" d="M244.5,1068.4 H265.6"/>
<path class="w" d="M241.8,1070.4 H272.2 V1096.4 L254.8,1092 H245.8 V1081 H241.8 Z"/>
<path class="t" d="M269.8,1070.4 L269.8,1095.8"/>
<path class="h" d="M254.8,1066 L254.8,1112.5"/>
<path class="wk" d="M253.3,1088.9 H237 Q225.2,1088.9 226,1100 L231.8,1147.5 Q232.6,1153 238.8,1153.7 L254.8,1155.2 L255.3,1151.2 L241.8,1149.7 Q238.4,1149.2 237.8,1145.7 L232.4,1100.5 Q231.8,1093.9 238.5,1093.9 H253.3"/>
<path class="w" d="M245.8,1096.9 H264.8 L264,1105.8 H246.6 Z"/>
<path class="t" d="M250.6,1096.9 V1105.8 M259.8,1096.9 V1105.8"/>
<rect class="w" x="249.8" y="1105.8" width="10" height="3"/>
<g transform="rotate(-7.5 230 1125)">
<path class="w" d="M217.5,1119.6 H197.5 Q196,1119.6 196,1121.2 V1130 Q196,1131.6 197.5,1131.6 H217.5"/>
<path class="hs" d="M198,1125.6 H217.5"/>
<rect class="w" x="217.5" y="1115.3" width="8" height="20.4"/>
<path class="t" d="M217.5,1120.7 H225.5 M217.5,1130.2 H225.5"/>
<path class="fb" d="M228.3,1111.5 C224.6,1118 224.6,1133 228.3,1139.5 C231.6,1133 231.6,1118 228.3,1111.5 Z"/>
</g>
<path class="w" d="M235.6,1111.8 C243.6,1114.5 244.2,1133 238.5,1135.8"/>
<path class="t" d="M238,1113.4 L240.6,1134.2"/>
<path class="o" d="M298.8,1077.6 A27.1,27.1 0 0 1 340,1072"/>
<path class="o" d="M303.2,1077.6 A22.2,22.2 0 0 1 335.6,1074.2"/>
<path class="o" d="M272.5,1078 H312.5 L313.1,1093.4 C313.5,1101 314.5,1106 316.5,1111 C318,1116 320.5,1120.5 323.5,1124 M272.5,1088 L331.2,1144.9 C334,1147.5 338,1147.8 340.5,1145.5 C342.6,1143.5 342.7,1141 342.7,1138 V1089 M338.3,1089 L337.2,1104.5 C336.5,1108 335,1110.5 333.4,1113"/>
<path class="o" d="M274.2,1085.2 L327,1132.8 Q328.6,1133.6 329.2,1132 Q329.6,1130.6 328.2,1129.4 L277.8,1083.5"/>
<path class="t" d="M294.5,1112.5 L302.8,1101.5"/>
<path class="o" d="M315.2,1103.8 L336.6,1095.6 M316.8,1103.4 C322,1102.5 329,1103.2 334.5,1107"/>
<circle class="w" cx="329.9" cy="1120.8" r="6.9"/>
<circle class="o" cx="329.9" cy="1120.8" r="4"/>
<path class="t" d="M327.1,1118 L332.7,1123.6 M332.7,1118 L327.1,1123.6"/>
<path class="w" d="M342.6,1070.6 H367.4 V1087.9 H342.6 A8.65,8.65 0 0 1 342.6,1070.6 Z"/>
<circle class="o" cx="342.9" cy="1080.2" r="3.4"/>
<path class="t" d="M338,1080.2 H347.8 M342.9,1075.3 V1085.1"/>
<path class="f" d="M361.1,1075.8 L364.4,1079.3 L361.1,1082.8 L357.8,1079.3 Z"/>
<path class="o" d="M351.5,1088 V1095 H358 V1088 M352,1095.6 H362.4 V1100 H352 Z M343.3,1101 H348.8 V1108.2 H343.3"/>
<path class="w" d="M367.4,1069.3 H390.2 V1059.8 Q390.2,1058 391.8,1058 H394.3 Q395.9,1058 395.9,1059.8 V1099.4 H363 V1088 H367.4"/>
<path class="o" d="M363.6,1099.4 V1103.6 H391.4 V1099.4"/>
</g>
<path class="cl" d="M912.4,768 L928.5,1135"/>
<path class="w" d="M698.4,853.6 H681 Q677.5,853.6 677.5,857 V877.3 Q677.5,880.7 681,880.7 H698.4 C701,872 701,862 698.4,853.6 Z"/>
<path class="w" d="M677.5,857.9 H645.1 L594.1,879.4 L596.8,887.7 L631.5,874.3 C635.5,872.7 639.5,873.7 645.1,877.5 H677.5"/>
<path class="o" d="M645.1,857.9 L645.1,877.5"/>
<path class="cl" d="M634,867.8 H765"/>
<path class="h" d="M590,885.5 L634,867.8"/>
<path class="hs" d="M596.5,879 L611,873.2 M598.6,885.6 L613,879.8"/>
<path class="o" d="M611.5,869.5 L615,881 M614.5,868.3 L618,879.8"/>
<path class="w" d="M647,888.5 L669,880.3 C670.7,883 668.7,885 670.7,887.5 C672.7,890 671.2,892.5 674,897.8 L657.5,905.5"/>
<path class="w" d="M605.7,898.6 C621,894 639,889.5 652.3,888.2 C657.5,888.8 661,892 661.1,895.4 C661,899.5 658.5,903 655.5,905 C645,913.5 632,923 618.8,929.7 C612.5,921 608,910 605.7,898.6 Z"/>
<path class="o" d="M651,888.5 C654.5,892.5 655.8,898.5 654.2,905.8"/>
<circle class="w" cx="628.7" cy="907.4" r="7.2"/>
<path class="c" d="M607,917.5 L680,886"/>
<path class="o" d="M625.6,899.2 L631.9,916"/>
<path class="f" d="M633.4,902 L638.5,892.5 L642.1,895.7 Z"/>
<path class="f" d="M624,912.8 L618.9,922.3 L615.3,919.1 Z"/>
<path class="t" d="M639,895.5 L645.5,888 M618,919.8 L600.5,942.5 H565.4"/>
<text x="563.6" y="939.8" font-size="19.5" text-anchor="start">Φ13</text>
</svg>
</body>
</html>
